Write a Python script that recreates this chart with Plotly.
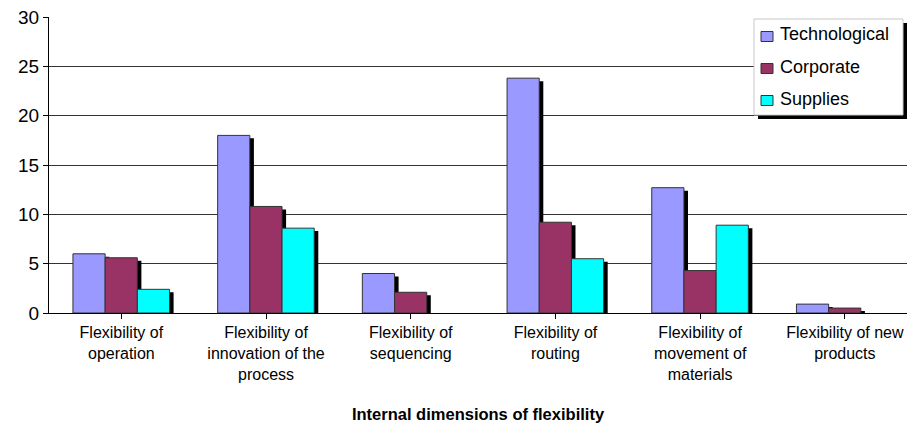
import plotly.graph_objects as go

# Internal dimensions of flexibility by type
categories = [
    "Flexibility of<br>operation",
    "Flexibility of<br>innovation of the<br>process",
    "Flexibility of<br>sequencing",
    "Flexibility of<br>routing",
    "Flexibility of<br>movement of<br>materials",
    "Flexibility of new<br>products",
]
series_names = ["Technological", "Corporate", "Supplies"]
technological = [6.0, 18.0, 4.0, 23.8, 12.7, 0.9]
corporate = [5.6, 10.8, 2.1, 9.2, 4.3, 0.5]
supplies = [2.4, 8.6, 0.0, 5.5, 8.9, 0.0]
y_ticks = [0, 5, 10, 15, 20, 25, 30]

series_values = [technological, corporate, supplies]
colors = ["#9999FF", "#993366", "#00FFFF"]

# figure geometry (pixels)
W, H = 907, 427
ML, MR, MT, MB = 49, 0, 17, 114
PW, PH = W - ML - MR, H - MT - MB

bar_w = 0.2225
offsets = [-0.3345, -0.112, 0.1105]
shadow_dx = 0.028   # shadow shift right, category units
shadow_dy = 0.3     # shadow drop, value units

x_idx = list(range(len(categories)))
fig = go.Figure()

# drop shadows behind every bar
for vals, off in zip(series_values, offsets):
    fig.add_trace(go.Bar(
        x=x_idx, y=[v - shadow_dy if v > 0 else 0 for v in vals],
        width=bar_w, offset=off + shadow_dx,
        marker=dict(color="black", line=dict(width=0)),
        showlegend=False, hoverinfo="skip",
    ))

for name, vals, off, col in zip(series_names, series_values, offsets, colors):
    fig.add_trace(go.Bar(
        x=x_idx, y=vals, name=name,
        width=bar_w, offset=off,
        marker=dict(color=col,
                    line=dict(color="#333333",
                              width=[1 if v > 0 else 0 for v in vals])),
        showlegend=False,
    ))

font_main = "Liberation Sans, Arial, sans-serif"

fig.update_layout(
    width=W, height=H,
    margin=dict(l=ML, r=MR, t=MT, b=MB, pad=0),
    barmode="overlay",
    plot_bgcolor="white", paper_bgcolor="white",
    font=dict(family=font_main, color="black"),
    xaxis=dict(
        range=[-0.5, -0.5 + PW / 144.7],
        tickmode="array", tickvals=x_idx, ticktext=categories,
        tickson="boundaries", ticks="outside", ticklen=5, tickcolor="black",
        showline=True, linecolor="black", linewidth=1,
        showgrid=False, zeroline=False,
        tickfont=dict(size=16, family=font_main),
        title=dict(text="<b>Internal dimensions of flexibility</b>",
                   font=dict(size=16.5, family=font_main), standoff=26),
    ),
    yaxis=dict(
        range=[0, 30], tickvals=y_ticks,
        ticks="outside", ticklen=5, tickcolor="black",
        showline=True, linecolor="black", linewidth=1,
        showgrid=True, gridcolor="#333333", gridwidth=1,
        zeroline=False,
        tickfont=dict(size=19, family=font_main),
    ),
)

# legend drawn as box, shadow, swatches and labels
def px_x(p):
    return (p - ML) / PW

def px_y(p):
    return (H - MB - p) / PH

lx0, lx1, ly0, ly1 = 754, 903, 19, 115
fig.add_shape(type="rect", xref="paper", yref="paper",
              x0=px_x(lx0 + 4), x1=px_x(lx1 + 4), y0=px_y(ly0 + 4), y1=px_y(ly1 + 4),
              fillcolor="black", line=dict(width=0), layer="above")
fig.add_shape(type="rect", xref="paper", yref="paper",
              x0=px_x(lx0), x1=px_x(lx1), y0=px_y(ly0), y1=px_y(ly1),
              fillcolor="white", line=dict(color="#c8c8c8", width=1), layer="above")
row_y = [36.5, 68.5, 100.5]
for name, col, ry in zip(series_names, colors, row_y):
    fig.add_shape(type="rect", xref="paper", yref="paper",
                  x0=px_x(761), x1=px_x(773), y0=px_y(ry - 5), y1=px_y(ry + 5),
                  fillcolor=col, line=dict(color="#333333", width=1), layer="above")
    fig.add_annotation(xref="paper", yref="paper", x=px_x(778), y=px_y(ry - 2),
                       text=name, showarrow=False, xanchor="left", yanchor="middle",
                       font=dict(size=18, family=font_main, color="black"))

fig.write_html("out.html")
